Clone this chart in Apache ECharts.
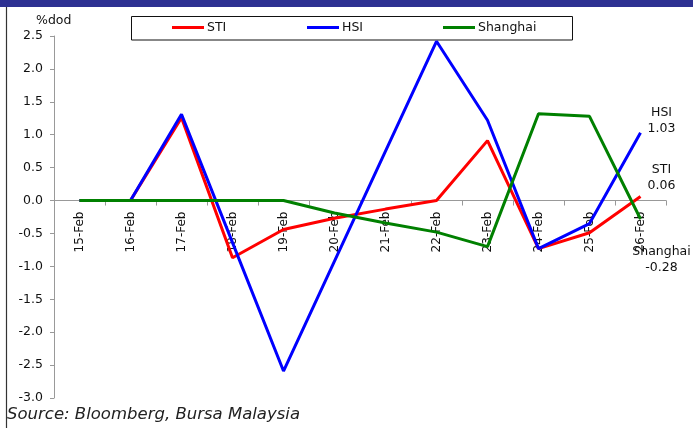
<!DOCTYPE html>
<html>
<head>
<meta charset="utf-8">
<script src="https://cdn.jsdelivr.net/npm/echarts@6/dist/echarts.min.js"></script>
<style>
  html, body { margin: 0; padding: 0; background: #fff; }
  #chart { width: 693px; height: 428px; }
</style>
</head>
<body>
<div id="chart"></div>
<script>
// Daily % change (day on day) of three Asian equity indices
const dates = ['15-Feb', '16-Feb', '17-Feb', '18-Feb', '19-Feb', '20-Feb',
               '21-Feb', '22-Feb', '23-Feb', '24-Feb', '25-Feb', '26-Feb'];
const sti      = [0, 0, 1.26, -0.87, -0.44, -0.27, -0.13, 0.0, 0.91, -0.73, -0.49, 0.06];
const hsi      = [0, 0, 1.31, -0.64, -2.59, -0.92, 0.75, 2.42, 1.22, -0.73, -0.35, 1.03];
const shanghai = [0, 0, 0, 0, 0, -0.19, -0.34, -0.48, -0.70, 1.32, 1.28, -0.28];
const yTicks = { min: -3.0, max: 2.5, step: 0.5 };

const FONT = 'DejaVu Sans';
const GRID = { left: 54, right: 27, top: 36, bottom: 30 };
const plotHeight = 428 - GRID.top - GRID.bottom;
// shift the category axis up so it sits on the zero line
const zeroOffset = -plotHeight * (0 - yTicks.min) / (yTicks.max - yTicks.min);

const chart = echarts.init(document.getElementById('chart'), null, { renderer: 'canvas' });

function lineSeries(name, data, color, labelOffset) {
  return {
    name: name,
    type: 'line',
    data: data,
    symbol: 'none',
    lineStyle: { color: color, width: 3 },
    itemStyle: { color: color },
    z: 3,
    endLabel: {
      show: true,
      formatter: p => p.seriesName + '\n' + Number(p.value).toFixed(2),
      offset: labelOffset,
      align: 'center',
      verticalAlign: 'middle',
      distance: 0,
      color: '#111',
      fontFamily: FONT,
      fontSize: 12.5,
      lineHeight: 16.5
    }
  };
}

function legendFor(name, left) {
  return {
    data: [name],
    left: left,
    top: 21,
    padding: 0,
    icon: 'rect',
    itemWidth: 32,
    itemHeight: 3,
    itemGap: 0,
    textStyle: { fontFamily: FONT, fontSize: 12.5, color: '#111', padding: [0, 0, 0, -2] }
  };
}

chart.setOption({
  animation: false,
  backgroundColor: '#fff',
  grid: Object.assign({ containLabel: false, outerBoundsMode: 'none' }, GRID),
  legend: [legendFor('STI', 172), legendFor('HSI', 307), legendFor('Shanghai', 443)],
  xAxis: {
    type: 'category',
    data: dates,
    boundaryGap: true,
    offset: zeroOffset,
    axisLine: { onZero: false, lineStyle: { color: '#999', width: 1 } },
    axisTick: { show: true, length: 5, lineStyle: { color: '#999' } },
    axisLabel: { rotate: 90, margin: 11, color: '#111', fontFamily: FONT, fontSize: 12 },
    splitLine: { show: false }
  },
  yAxis: {
    type: 'value',
    min: yTicks.min,
    max: yTicks.max,
    interval: yTicks.step,
    axisLine: { show: true, lineStyle: { color: '#999', width: 1 } },
    axisTick: { show: true, length: 4, lineStyle: { color: '#999' } },
    axisLabel: { margin: 11, color: '#111', fontFamily: FONT, fontSize: 12.5,
                 formatter: v => v.toFixed(1) },
    splitLine: { show: false }
  },
  graphic: [
    { type: 'rect', shape: { x: 0, y: 0, width: 693, height: 7 },
      style: { fill: '#2E3192' }, silent: true },
    { type: 'line', shape: { x1: 6.5, y1: 7, x2: 6.5, y2: 428 },
      style: { stroke: '#333', lineWidth: 1.2 }, silent: true },
    { type: 'rect', shape: { x: 131.5, y: 16.5, width: 441, height: 23.5 },
      style: { fill: 'none', stroke: '#111', lineWidth: 1 }, silent: true, z: 0 },
    { type: 'text', left: 36, top: 14,
      style: { text: '%dod', font: '12.5px "DejaVu Sans"', fill: '#111' }, silent: true },
    { type: 'text', left: 7, top: 406,
      style: { text: 'Source: Bloomberg, Bursa Malaysia',
               font: 'italic 16.5px "DejaVu Sans"', fill: '#222' }, silent: true }
  ],
  series: [
    lineSeries('STI', sti, '#FF0000', [21, -19]),
    lineSeries('HSI', hsi, '#0000FF', [21, -12]),
    lineSeries('Shanghai', shanghai, '#008000', [21, 41])
  ]
});
</script>
</body>
</html>
